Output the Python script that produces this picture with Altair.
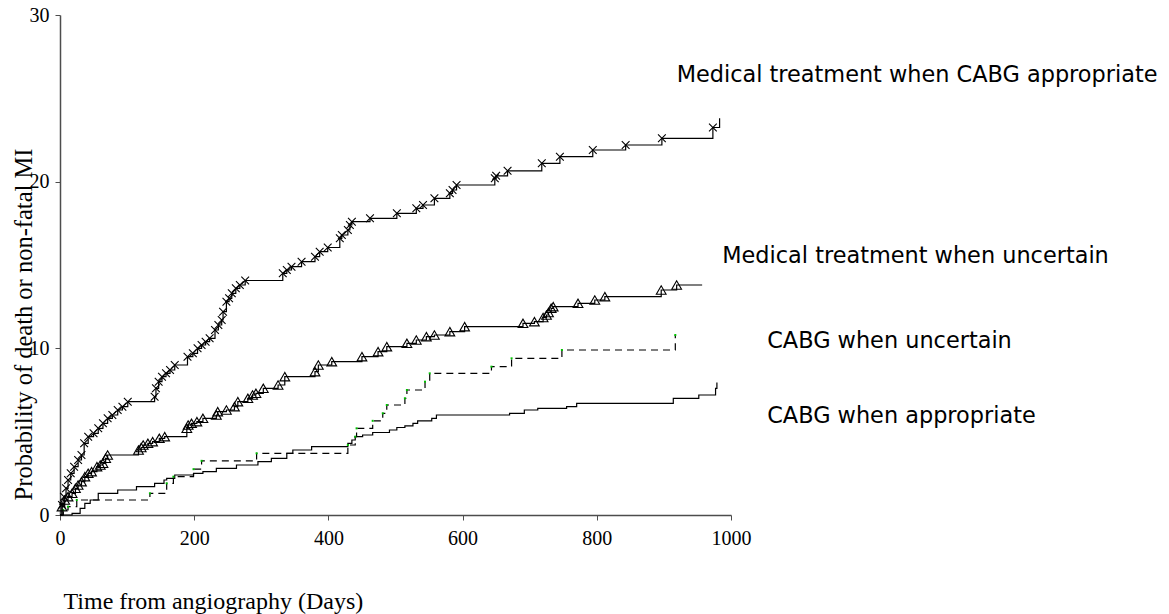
import altair as alt
import pandas as pd

# Step curves: day of each step and cumulative probability (%) reached there
med_appr_days = [0, 3, 6, 9, 12, 16, 21, 27, 32, 36, 42, 50, 57, 64, 71, 78, 86, 93, 101, 141,
                 143, 147, 152, 158, 164, 171, 190, 198, 205, 211, 217, 223, 231, 236, 241, 243, 248, 252, 256, 262,
                 268, 276, 332, 338, 345, 360, 380, 387, 399, 417, 420, 429, 432, 435, 462, 502, 531, 541, 558, 581,
                 585, 591, 648, 650, 667, 718, 745, 794, 843, 897, 973, 983]
med_appr_pct = [0, 0.6, 1.1, 1.6, 2.1, 2.5, 2.9, 3.3, 3.6, 4.3, 4.7, 4.9, 5.2, 5.5, 5.8, 6.0, 6.3, 6.5, 6.8, 7.1,
                7.6, 8.0, 8.3, 8.5, 8.7, 9.0, 9.5, 9.7, 10.0, 10.2, 10.4, 10.6, 11.1, 11.4, 11.7, 12.2, 12.8, 13.0, 13.3, 13.6,
                13.8, 14.07, 14.5, 14.7, 14.9, 15.2, 15.5, 15.8, 16.05, 16.6, 16.8, 17.1, 17.4, 17.6, 17.8, 18.1, 18.4, 18.6, 19.0, 19.3,
                19.5, 19.8, 20.2, 20.35, 20.65, 21.1, 21.5, 21.9, 22.2, 22.6, 23.25, 23.8]

med_unc_days = [0, 3, 7, 12, 18, 23, 27, 32, 37, 42, 47, 55, 60, 64, 68, 71, 117, 121, 124, 131,
                138, 148, 156, 189, 191, 196, 204, 213, 233, 235, 248, 260, 265, 280, 287, 292, 303, 325, 335, 380,
                385, 405, 450, 474, 487, 517, 531, 546, 558, 581, 603, 690, 707, 720, 725, 728, 732, 735, 772, 797,
                812, 896, 919, 957]
med_unc_pct = [0, 0.5, 0.9, 1.1, 1.3, 1.6, 1.8, 2.0, 2.3, 2.5, 2.6, 2.9, 3.0, 3.1, 3.4, 3.6, 3.9, 4.05, 4.2, 4.3,
               4.4, 4.6, 4.7, 5.2, 5.4, 5.5, 5.6, 5.8, 6.0, 6.2, 6.3, 6.5, 6.8, 7.0, 7.2, 7.3, 7.6, 7.8, 8.3, 8.6,
               9.0, 9.2, 9.5, 9.8, 10.1, 10.3, 10.5, 10.7, 10.8, 11.0, 11.3, 11.5, 11.6, 11.85, 12.0, 12.15, 12.4, 12.5, 12.7, 12.9,
               13.1, 13.5, 13.8, 13.8]

cabg_unc_days = [0, 5, 12, 25, 134, 159, 169, 199, 211, 293, 429, 440, 442, 466, 481, 487, 514, 517, 544, 551,
                 643, 673, 748, 917]
cabg_unc_pct = [0, 0.3, 0.5, 0.9, 1.3, 1.9, 2.3, 2.75, 3.25, 3.7, 4.2, 4.7, 5.2, 5.65, 6.1, 6.6, 7.0, 7.5, 8.0, 8.5,
                8.9, 9.4, 9.9, 10.8]

cabg_appr_days = [0, 18, 30, 37, 45, 57, 86, 114, 141, 155, 159, 171, 199, 213, 233, 263, 295, 315, 338, 347,
                  375, 429, 435, 440, 451, 466, 491, 502, 514, 526, 533, 554, 561, 670, 692, 712, 755, 770, 914, 952,
                  977, 979]
cabg_appr_pct = [0, 0.1, 0.4, 0.7, 0.9, 1.3, 1.5, 1.7, 1.9, 2.1, 2.2, 2.4, 2.5, 2.6, 2.8, 3.0, 3.2, 3.4, 3.7, 3.9,
                 4.1, 4.3, 4.5, 4.7, 4.8, 4.95, 5.1, 5.25, 5.35, 5.5, 5.65, 5.8, 6.0, 6.1, 6.3, 6.4, 6.5, 6.7, 7.0, 7.2,
                 7.6, 7.95]

# Curve labels and the (day, %) point where each one starts
label_texts = ["Medical treatment when CABG appropriate", "Medical treatment when uncertain",
               "CABG when uncertain", "CABG when appropriate"]
label_days = [919, 987, 1054, 1054]
label_pct = [26.0, 15.15, 10.0, 5.5]

x_ticks = [0, 200, 400, 600, 800, 1000]
y_ticks = [0, 10, 20, 30]


def frame(days, pct):
    return pd.DataFrame({"day": days, "pct": pct})


med_appr = frame(med_appr_days, med_appr_pct)
med_unc = frame(med_unc_days, med_unc_pct)
cabg_unc = frame(cabg_unc_days, cabg_unc_pct)
cabg_appr = frame(cabg_appr_days, cabg_appr_pct)
labels = pd.DataFrame({"day": label_days, "pct": label_pct, "text": label_texts})

axis_common = dict(
    grid=False,
    domainColor="#4d4d4d",
    domainWidth=1.5,
    tickColor="#4d4d4d",
    tickSize=5,
    labelFont="Liberation Serif",
    labelFontSize=20,
    labelColor="#000000",
    titleFont="Liberation Serif",
    titleFontWeight="normal",
    titleColor="#000000",
)

X = alt.X(
    "day:Q",
    scale=alt.Scale(domain=[0, 1000], nice=False),
    axis=alt.Axis(
        values=x_ticks, format="d", labelPadding=8, labelFlush=False,
        title="Time from angiography (Days)", titleFontSize=24,
        titleX=3, titleY=93, titleAlign="left", titleBaseline="alphabetic",
        **axis_common,
    ),
)
Y = alt.Y(
    "pct:Q",
    scale=alt.Scale(domain=[0, 30], nice=False),
    axis=alt.Axis(
        values=y_ticks, format="d", labelPadding=6, labelFlush=False,
        title="Probability of death or non-fatal MI", titleFontSize=24.5,
        titleX=-29, titleY=309, titleAngle=-90, titleAlign="center", titleBaseline="alphabetic",
        **axis_common,
    ),
)

cross_path = "M-1,-1L1,1M-1,1L1,-1"

line_med_appr = alt.Chart(med_appr).mark_line(
    interpolate="step-after", color="#000000", strokeWidth=1.2
).encode(x=X, y=Y)
pts_med_appr = alt.Chart(med_appr.iloc[1:-1]).mark_point(
    shape=cross_path, size=60, color="#000000", strokeWidth=1.1, filled=False, opacity=1
).encode(x=X, y=Y)

line_med_unc = alt.Chart(med_unc).mark_line(
    interpolate="step-after", color="#000000", strokeWidth=1.2
).encode(x=X, y=Y)
pts_med_unc = alt.Chart(med_unc.iloc[1:-1]).mark_point(
    shape="triangle-up", size=95, color="#000000", strokeWidth=1.1, filled=False, opacity=1
).encode(x=X, y=Y)

line_cabg_unc = alt.Chart(cabg_unc).mark_line(
    interpolate="step-after", color="#000000", strokeWidth=1.2, strokeDash=[7, 5]
).encode(x=X, y=Y)
pts_cabg_unc = alt.Chart(cabg_unc.iloc[1:]).mark_point(
    shape="square", size=4, color="#00c000", filled=True, opacity=1
).encode(x=X, y=Y)

line_cabg_appr = alt.Chart(cabg_appr).mark_line(
    interpolate="step-after", color="#000000", strokeWidth=1.2
).encode(x=X, y=Y)

text = alt.Chart(labels).mark_text(
    align="left", baseline="alphabetic", font="DejaVu Sans", fontSize=22.4, color="#000000"
).encode(x=X, y=Y, text="text:N")

chart = alt.layer(
    line_cabg_appr, line_cabg_unc, pts_cabg_unc,
    line_med_unc, pts_med_unc,
    line_med_appr, pts_med_appr,
    text,
).properties(
    width=671,
    height=500,
    autosize=alt.AutoSizeParams(type="none"),
    padding={"left": 60, "top": 15, "right": 438, "bottom": 99},
    background="#ffffff",
).configure_view(stroke=None)

chart.save("out.html", embed_options={"renderer": "svg", "actions": False})
